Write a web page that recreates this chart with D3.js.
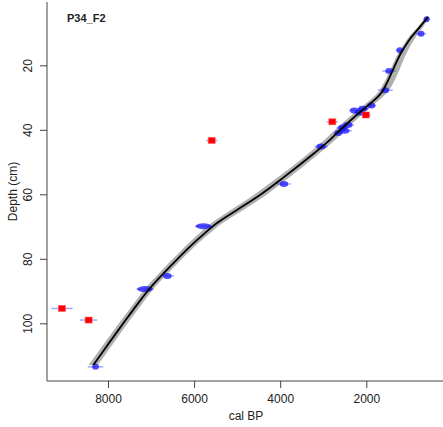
<!DOCTYPE html>
<html>
<head>
<meta charset="utf-8">
<script src="https://cdn.jsdelivr.net/npm/d3@7"></script>
<style>
body { margin: 0; background: #fff; }
svg { display: block; font-family: "Liberation Sans", Arial, sans-serif; }
</style>
</head>
<body>
<div class="container"></div>
<script>
const width = 443;
const height = 427;

const title = 'P34_F2';

// age-depth model: depth (cm), median age and envelope (cal BP)
const modelDepth = [5, 8.1, 11.2, 13.7, 16.2, 19, 21.5, 25.6, 27.5, 29, 30.5, 32.8, 35.4, 41, 43.1, 47.8, 54.9, 60.2, 65, 69, 72.5, 76.2, 83.5, 88.7, 92.2, 99, 106, 112.9];
const modelAge = [568, 754, 950, 1080, 1195, 1300, 1385, 1527, 1600, 1680, 1790, 1992, 2224, 2682, 2844, 3262, 3936, 4470, 5020, 5476, 5790, 6096, 6638, 7000, 7210, 7590, 7970, 8340];
const modelMin = [528, 684, 850, 965, 1065, 1155, 1235, 1377, 1460, 1555, 1680, 1882, 2109, 2562, 2719, 3137, 3801, 4325, 4875, 5346, 5670, 5986, 6533, 6900, 7110, 7490, 7865, 8235];
const modelMax = [608, 809, 1010, 1140, 1255, 1360, 1445, 1597, 1675, 1765, 1890, 2102, 2339, 2802, 2969, 3387, 4071, 4615, 5165, 5606, 5910, 6206, 6743, 7100, 7310, 7690, 8075, 8445];

// dated samples: depth, median calibrated age, 1-sigma and 95% half range
const dateDepth = [5.7, 10.2, 15.3, 21.8, 27.7, 32.5, 33.5, 34.0, 34.6, 35.4, 37.5, 38.5, 39.4, 40.3, 41.0, 45.2, 43.3, 56.8, 69.9, 85.3, 89.4, 95.4, 99.0, 113.5];
const dateAge = [598, 728, 1220, 1470, 1560, 1880, 2080, 2280, 2160, 2010, 2790, 2430, 2560, 2500, 2650, 3050, 5590, 3913, 5783, 6620, 7140, 9070, 8450, 8290];
const dateSigma = [70, 80, 80, 90, 90, 90, 110, 100, 100, 80, 90, 110, 100, 110, 90, 110, 80, 100, 175, 100, 180, 90, 90, 80];
const dateRange = [75, 120, 100, 160, 175, 110, 130, 120, 110, 110, 130, 150, 130, 160, 110, 160, 130, 160, 200, 150, 200, 250, 200, 180];
const dateOutlier = [0, 0, 0, 0, 0, 0, 0, 0, 0, 1, 1, 0, 0, 0, 0, 0, 1, 0, 0, 0, 0, 1, 1, 0];

const xTicks = [8000, 6000, 4000, 2000];
const yTicks = [20, 40, 60, 80, 100];

const plotLeft = 47, plotBottom = 381, plotTop = 2;

function draw() {
    const svg = d3.select('.container')
        .append('svg')
        .attr('width', width)
        .attr('height', height);

    const xscale = d3.scaleLinear().domain([8000, 2000]).range([108, 366.3]);
    const yscale = d3.scaleLinear().domain([20, 100]).range([65.3, 323.3]);
    const yrs = v => xscale(0) - xscale(v); // width in px of an age span

    const model = modelDepth.map((d, i) => ({
        depth: d, age: modelAge[i], min: modelMin[i], max: modelMax[i]
    }));
    const dates = dateDepth.map((d, i) => ({
        depth: d, age: dateAge[i], sigma: dateSigma[i], range: dateRange[i],
        outlier: dateOutlier[i] === 1
    }));

    // grey envelope
    const band = d3.area()
        .y(d => yscale(d.depth))
        .x0(d => xscale(d.min))
        .x1(d => xscale(d.max))
        .curve(d3.curveCatmullRom);
    svg.append('path')
        .datum(model)
        .attr('d', band)
        .attr('fill', '#b0b0b0');

    // dates: error bars then blobs
    svg.selectAll('.bar')
        .data(dates)
        .enter()
        .append('line')
        .attr('class', 'bar')
        .attr('x1', d => xscale(d.age + d.range))
        .attr('x2', d => xscale(d.age - d.range))
        .attr('y1', d => yscale(d.depth))
        .attr('y2', d => yscale(d.depth))
        .attr('stroke', 'rgba(60,60,255,0.45)')
        .attr('stroke-width', 1.5);

    svg.selectAll('.blob')
        .data(dates.filter(d => !d.outlier))
        .enter()
        .append('ellipse')
        .attr('class', 'blob')
        .attr('cx', d => xscale(d.age))
        .attr('cy', d => yscale(d.depth))
        .attr('rx', d => yrs(d.sigma))
        .attr('ry', 3)
        .attr('fill', 'rgba(20,20,255,0.75)');

    // outlying dates in red
    svg.selectAll('.out')
        .data(dates.filter(d => d.outlier))
        .enter()
        .append('rect')
        .attr('class', 'out')
        .attr('x', d => xscale(d.age) - 3.5)
        .attr('y', d => yscale(d.depth) - 3)
        .attr('width', 7)
        .attr('height', 6)
        .attr('fill', '#f00')
        .attr('stroke', 'rgba(255,80,80,0.5)')
        .attr('stroke-width', 1);

    // median age line
    const line = d3.line()
        .x(d => xscale(d.age))
        .y(d => yscale(d.depth))
        .curve(d3.curveCatmullRom);
    svg.append('path')
        .datum(model)
        .attr('d', line)
        .attr('fill', 'none')
        .attr('stroke', '#000')
        .attr('stroke-width', 1.8);

    // axes
    const axisColor = '#444';
    svg.append('line')
        .attr('x1', plotLeft).attr('x2', plotLeft)
        .attr('y1', plotTop).attr('y2', plotBottom)
        .attr('stroke', axisColor);
    svg.append('line')
        .attr('x1', plotLeft).attr('x2', width)
        .attr('y1', plotBottom).attr('y2', plotBottom)
        .attr('stroke', axisColor);

    const xAxis = svg.append('g')
        .attr('transform', `translate(0,${plotBottom})`)
        .call(d3.axisBottom(xscale).tickValues(xTicks).tickSize(7).tickPadding(6).tickFormat(d3.format('d')));
    xAxis.select('.domain').remove();
    xAxis.selectAll('line').attr('stroke', axisColor);
    xAxis.selectAll('text').attr('font-size', 12).attr('fill', '#222').attr('font-family', '"Liberation Sans", Arial, sans-serif');

    const yAxis = svg.append('g')
        .attr('transform', `translate(${plotLeft},0)`)
        .call(d3.axisLeft(yscale).tickValues(yTicks).tickSize(7).tickFormat(d3.format('d')));
    yAxis.select('.domain').remove();
    yAxis.selectAll('line').attr('stroke', axisColor);
    yAxis.selectAll('text')
        .attr('font-size', 12).attr('fill', '#222')
        .attr('font-family', '"Liberation Sans", Arial, sans-serif')
        .attr('x', 0).attr('dy', 0)
        .attr('text-anchor', 'middle')
        .attr('transform', 'translate(-15,0) rotate(-90)');

    svg.append('text')
        .attr('x', 246).attr('y', 420)
        .attr('text-anchor', 'middle')
        .attr('font-size', 12).attr('fill', '#222')
        .text('cal BP');

    svg.append('text')
        .attr('transform', `translate(17,${(plotTop + plotBottom) / 2}) rotate(-90)`)
        .attr('text-anchor', 'middle')
        .attr('font-size', 12).attr('fill', '#222')
        .text('Depth (cm)');

    svg.append('text')
        .attr('x', 67).attr('y', 22)
        .attr('font-size', 11).attr('font-weight', 'bold').attr('fill', '#222')
        .text(title);
}

draw();
</script>
</body>
</html>
